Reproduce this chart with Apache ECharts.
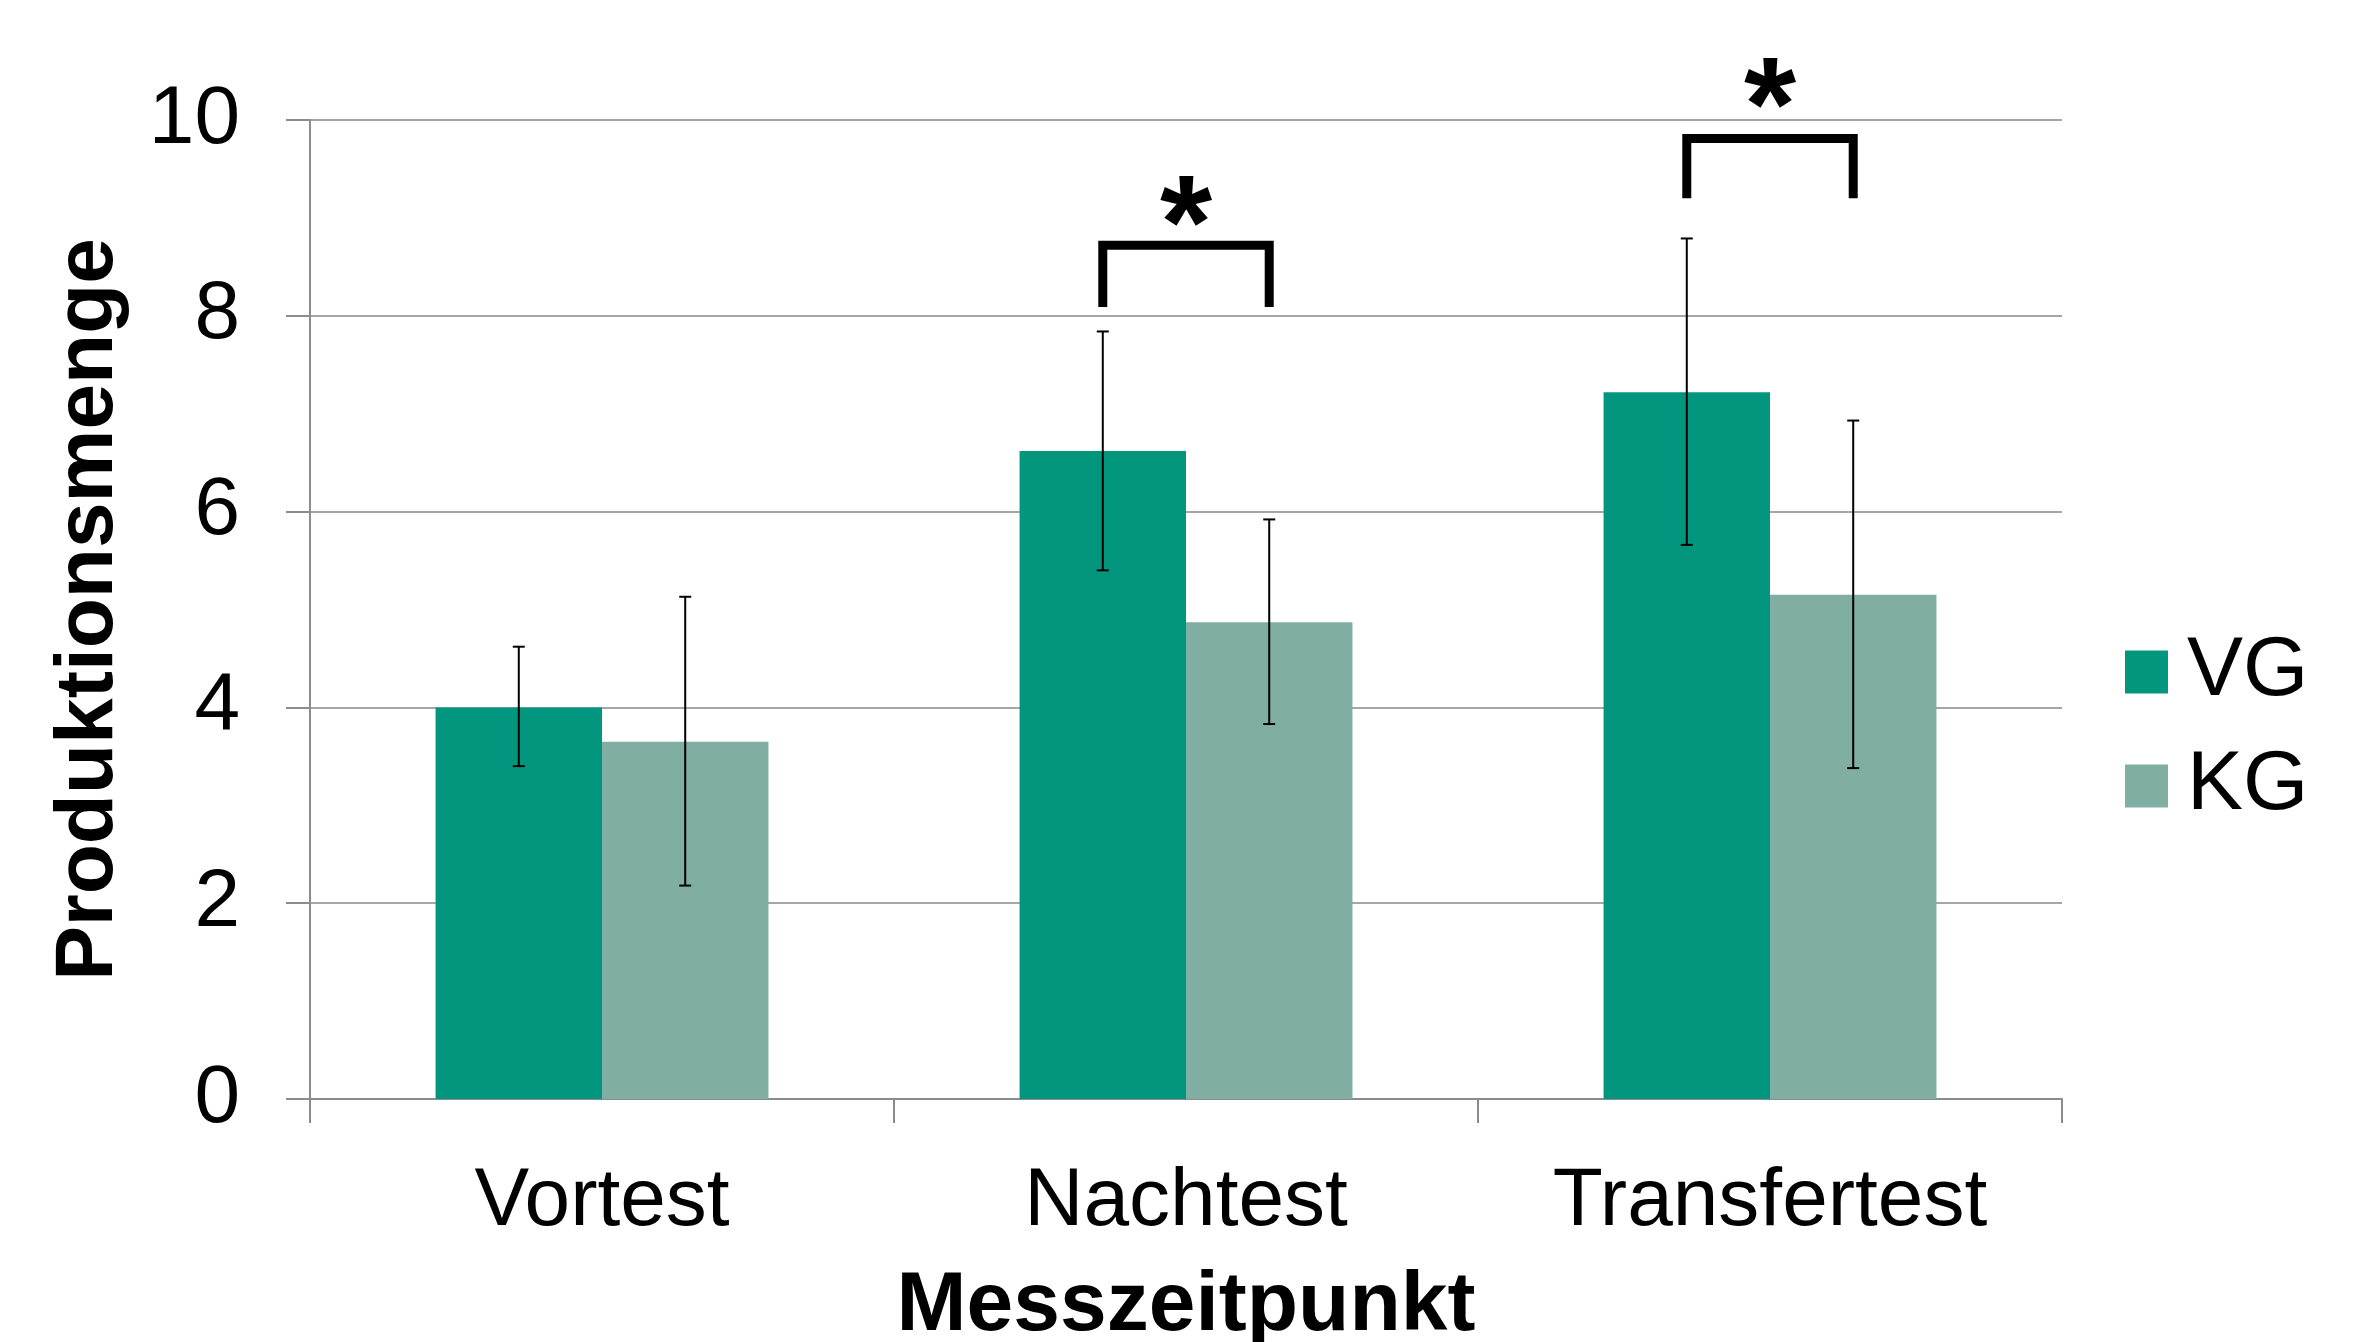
<!DOCTYPE html>
<html>
<head>
<meta charset="utf-8">
<script src="https://cdn.jsdelivr.net/npm/echarts@6/dist/echarts.min.js"></script>
<style>
  html, body { margin: 0; padding: 0; background: #fff; }
  #chart { width: 2360px; height: 1342px; }
</style>
</head>
<body>
<div id="chart"></div>
<script>
// Messzeitpunkt categories and group means / error bar ends
const categories = ["Vortest", "Nachtest", "Transfertest"];
const vgMean = [4.0, 6.62, 7.22];
const vgLow = [3.40, 5.40, 5.66];
const vgHigh = [4.62, 7.84, 8.79];
const kgMean = [3.65, 4.87, 5.15];
const kgLow = [2.18, 3.83, 3.38];
const kgHigh = [5.13, 5.92, 6.93];

// significance brackets (category index, leg bottom, bracket top, asterisk)
const sigCats = [1, 2];
const sigBottom = [8.09, 9.20];
const sigTop = [8.72, 9.81];
const sigStar = [8.87, 10.07];

const FONT = "'Liberation Sans', Arial, sans-serif";
const CAT_GAP = 0.43;                 // barCategoryGap
const HALF = (1 - CAT_GAP) / 4;       // bar centre offset, share of category width

const chart = echarts.init(document.getElementById("chart"));

function errorBars(sign) {
  return function (params, api) {
    const idx = api.value(0);
    const lo = api.coord([idx, api.value(1)]);
    const hi = api.coord([idx, api.value(2)]);
    const x = lo[0] + sign * api.size([1, 0])[0] * HALF;
    const cap = 6;
    const style = { stroke: "#000", lineWidth: 2 };
    return {
      type: "group",
      children: [
        { type: "line", shape: { x1: x, y1: lo[1], x2: x, y2: hi[1] }, style },
        { type: "line", shape: { x1: x - cap, y1: lo[1], x2: x + cap, y2: lo[1] }, style },
        { type: "line", shape: { x1: x - cap, y1: hi[1], x2: x + cap, y2: hi[1] }, style }
      ]
    };
  };
}

function bracket(params, api) {
  const idx = api.value(0);
  const bot = api.coord([idx, api.value(1)]);
  const top = api.coord([idx, api.value(2)]);
  const star = api.coord([idx, api.value(3)]);
  const off = api.size([1, 0])[0] * HALF;
  const xl = bot[0] - off, xr = bot[0] + off;
  return {
    type: "group",
    children: [
      {
        type: "polyline",
        shape: { points: [[xl, bot[1]], [xl, top[1]], [xr, top[1]], [xr, bot[1]]] },
        style: { stroke: "#000", lineWidth: 9, fill: null, lineJoin: "miter", lineCap: "butt" }
      },
      {
        type: "text",
        x: star[0], y: star[1],
        style: { text: "*", fill: "#000", font: "bold 134px " + FONT, align: "center", verticalAlign: "middle" }
      }
    ]
  };
}

chart.setOption({
  animation: false,
  textStyle: { fontFamily: FONT },
  grid: { left: 310, right: 298, top: 120, bottom: 243, outerBoundsMode: "none", containLabel: false },
  legend: {
    orient: "vertical",
    left: 2120,
    top: 625,
    itemWidth: 43,
    itemHeight: 43,
    itemGap: 30,
    icon: "rect",
    data: ["VG", "KG"],
    textStyle: { fontSize: 84, color: "#000", fontFamily: FONT, padding: [0, 0, 0, 14] }
  },
  xAxis: {
    type: "category",
    data: categories,
    name: "Messzeitpunkt",
    nameLocation: "middle",
    nameGap: 166,
    nameTextStyle: { fontSize: 84, fontWeight: "bold", color: "#000", fontFamily: FONT },
    axisLine: { lineStyle: { color: "#8c8c8c", width: 2 } },
    axisTick: { show: true, length: 24, lineStyle: { color: "#8c8c8c", width: 2 } },
    axisLabel: { fontSize: 82, color: "#000", margin: 62, fontFamily: FONT }
  },
  yAxis: {
    type: "value",
    min: 0,
    max: 10,
    interval: 2,
    name: "Produktionsmenge",
    nameLocation: "middle",
    nameGap: 180,
    nameTextStyle: { fontSize: 82, fontWeight: "bold", color: "#000", fontFamily: FONT },
    axisLine: { show: true, lineStyle: { color: "#8c8c8c", width: 2 } },
    axisTick: { show: true, length: 24, lineStyle: { color: "#8c8c8c", width: 2 } },
    axisLabel: { fontSize: 82, color: "#000", margin: 70, fontFamily: FONT },
    splitLine: { lineStyle: { color: "#a6a6a6", width: 2 } }
  },
  series: [
    {
      name: "VG", type: "bar", data: vgMean,
      barGap: "0%", barCategoryGap: (CAT_GAP * 100) + "%",
      itemStyle: { color: "#03967f" }
    },
    {
      name: "KG", type: "bar", data: kgMean,
      barGap: "0%", barCategoryGap: (CAT_GAP * 100) + "%",
      itemStyle: { color: "#81aea2" }
    },
    {
      type: "custom", renderItem: errorBars(-1), z: 5,
      data: categories.map((c, i) => [i, vgLow[i], vgHigh[i]])
    },
    {
      type: "custom", renderItem: errorBars(1), z: 5,
      data: categories.map((c, i) => [i, kgLow[i], kgHigh[i]])
    },
    {
      type: "custom", renderItem: bracket, clip: false, z: 6,
      data: sigCats.map((c, i) => [c, sigBottom[i], sigTop[i], sigStar[i]])
    }
  ]
});
</script>
</body>
</html>
